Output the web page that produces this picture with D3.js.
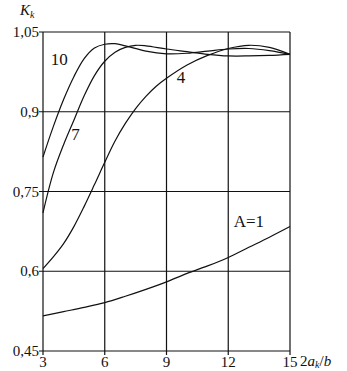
<!DOCTYPE html>
<html>
<head>
<meta charset="utf-8">
<script src="https://cdn.jsdelivr.net/npm/d3@7"></script>
<style>
  body { margin: 0; background: #fff; }
  svg { display: block; }
  text { font-family: "Liberation Serif", "DejaVu Serif", serif; fill: #111; }
</style>
</head>
<body>
<svg id="chart" width="347" height="371"></svg>
<script>
// data
var xTicks = [3, 6, 9, 12, 15];
var yTicks = [0.45, 0.6, 0.75, 0.9, 1.05];
var yTickLabels = ["0,45", "0,6", "0,75", "0,9", "1,05"];

var xA1  = [3, 4, 5, 6, 7, 8, 9, 10, 11, 12, 13, 14, 15];
var kA1  = [0.516, 0.524, 0.532, 0.541, 0.553, 0.566, 0.580, 0.596, 0.610, 0.626, 0.645, 0.664, 0.684];

var xA4  = [3, 3.5, 4, 4.5, 5, 5.5, 6, 6.5, 7, 7.5, 8, 8.5, 9, 10, 11, 12, 13, 14, 15];
var kA4  = [0.605, 0.627, 0.652, 0.684, 0.722, 0.763, 0.805, 0.845, 0.878, 0.906, 0.929, 0.948, 0.963, 0.988, 1.006, 1.019, 1.025, 1.021, 1.008];

var xA7  = [3, 3.5, 4, 4.5, 5, 5.5, 6, 6.5, 7, 7.5, 8, 9, 10, 11, 12, 13, 14, 15];
var kA7  = [0.71, 0.785, 0.838, 0.884, 0.93, 0.968, 0.995, 1.012, 1.021, 1.025, 1.024, 1.018, 1.013, 1.008, 1.005, 1.005, 1.006, 1.008];

var xA10 = [3, 3.5, 4, 4.5, 5, 5.5, 6, 6.5, 7, 8, 9, 10, 11, 12, 13, 14, 15];
var kA10 = [0.815, 0.872, 0.923, 0.966, 1.0, 1.02, 1.027, 1.028, 1.024, 1.014, 1.009, 1.01, 1.014, 1.018, 1.019, 1.015, 1.008];

var curveNames = ["A=1", "4", "7", "10"];

function plot() {
	var svg = d3.select("#chart");
	var left = 43, right = 290, top = 32, bottom = 351;

	var x = d3.scaleLinear().domain([3, 15]).range([left, right]);
	var y = d3.scaleLinear().domain([0.45, 1.05]).range([bottom, top]);

	// grid + frame
	var g = svg.append("g").attr("stroke", "#111").attr("stroke-width", 1.2);
	xTicks.forEach(function(t) {
		g.append("line").attr("x1", x(t)).attr("x2", x(t))
			.attr("y1", y(1.05)).attr("y2", y(0.45) + 4);
	});
	yTicks.forEach(function(t) {
		g.append("line").attr("x1", x(3) - 4).attr("x2", x(15))
			.attr("y1", y(t)).attr("y2", y(t));
	});

	// tick labels
	svg.selectAll("text.ylab")
		.data(yTicks)
		.enter().append("text")
		.attr("class", "ylab")
		.attr("x", left - 4)
		.attr("y", function(d) { return y(d) + 5; })
		.attr("text-anchor", "end")
		.attr("font-size", "15px")
		.text(function(d, i) { return yTickLabels[i]; });

	svg.selectAll("text.xlab")
		.data(xTicks)
		.enter().append("text")
		.attr("class", "xlab")
		.attr("x", function(d) { return x(d); })
		.attr("y", bottom + 16)
		.attr("text-anchor", "middle")
		.attr("font-size", "15px")
		.text(function(d) { return d; });

	// axis titles
	var xt = svg.append("text").attr("x", 300).attr("y", bottom + 15).attr("font-size", "15px");
	xt.append("tspan").text("2");
	xt.append("tspan").attr("font-style", "italic").text("a");
	xt.append("tspan").attr("font-style", "italic").attr("font-size", "10px").attr("dy", 2).text("k");
	xt.append("tspan").attr("dy", -2).text("/");
	xt.append("tspan").attr("font-style", "italic").text("b");

	var yt = svg.append("text").attr("x", 20).attr("y", 15).attr("font-size", "15px").attr("font-style", "italic");
	yt.append("tspan").text("K");
	yt.append("tspan").attr("font-size", "10px").attr("dy", 3).text("k");

	// curves
	var line = d3.line()
		.x(function(d) { return x(d[0]); })
		.y(function(d) { return y(d[1]); })
		.curve(d3.curveCatmullRom.alpha(0.5));

	var series = [d3.zip(xA1, kA1), d3.zip(xA4, kA4), d3.zip(xA7, kA7), d3.zip(xA10, kA10)];
	svg.selectAll("path.curve")
		.data(series)
		.enter().append("path")
		.attr("class", "curve")
		.attr("d", line)
		.attr("fill", "none")
		.attr("stroke", "#111")
		.attr("stroke-width", 1.2);

	// curve labels
	var labelPos = [[13.0, 0.684], [9.7, 0.954], [4.58, 0.847], [3.79, 0.988]];
	svg.selectAll("text.clab")
		.data(curveNames)
		.enter().append("text")
		.attr("class", "clab")
		.attr("x", function(d, i) { return x(labelPos[i][0]); })
		.attr("y", function(d, i) { return y(labelPos[i][1]); })
		.attr("text-anchor", "middle")
		.attr("font-size", "17px")
		.text(function(d) { return d; });
}
plot();
</script>
</body>
</html>
